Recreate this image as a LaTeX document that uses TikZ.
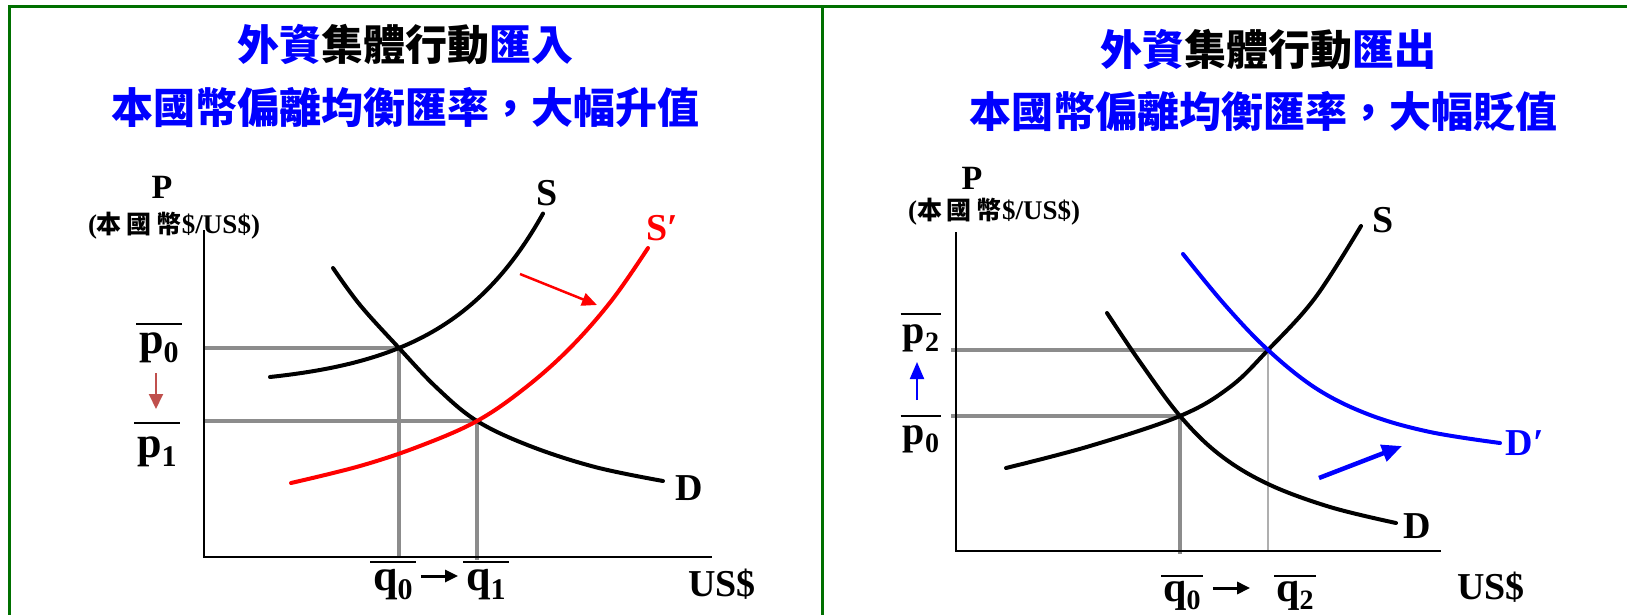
\documentclass[tikz,border=0pt]{standalone}
\usepackage{fontspec}
\setmainfont{Liberation Serif}
\newfontfamily\cjk{Noto Sans CJK TC}
\usetikzlibrary{arrows.meta}
\definecolor{framegreen}{RGB}{0,112,0}
\definecolor{tblue}{RGB}{0,0,255}
\definecolor{guidegray}{RGB}{140,140,140}
\definecolor{lightguide}{RGB}{175,175,175}
\definecolor{brownred}{RGB}{192,80,77}
\definecolor{sred}{RGB}{255,0,0}
\newcommand\bigsub[1]{\raisebox{-9pt}{\fontsize{30}{30}\selectfont #1}}
\newcommand\midsub[1]{\raisebox{-8pt}{\fontsize{28}{28}\selectfont #1}}
\newcommand\unittext{({\cjk\fontsize{25}{25}\selectfont 本\hspace{5pt}國\hspace{5pt}幣}\$/US\$)}
\tikzset{
  framel/.style={draw=framegreen, line width=3pt},
  title/.style={font=\cjk\bfseries\fontsize{42}{42}\selectfont, text=tblue, inner sep=0pt},
  axis/.style={draw=black, line width=2pt},
  curve/.style={line width=4pt, line cap=round},
  guide/.style={draw=guidegray, line width=3.5pt},
  thinguide/.style={draw=lightguide, line width=2pt},
  lbl/.style={font=\bfseries\fontsize{38}{38}\selectfont, inner sep=0pt},
  plbl/.style={font=\bfseries\fontsize{34}{34}\selectfont, inner sep=0pt},
  unitlbl/.style={font=\bfseries\fontsize{27}{27}\selectfont, inner sep=0pt},
  qlbl/.style={font=\bfseries\fontsize{44}{44}\selectfont, inner sep=0pt, anchor=base},
  rqlbl/.style={font=\bfseries\fontsize{42}{42}\selectfont, inner sep=0pt, anchor=base},
  rplbl/.style={font=\bfseries\fontsize{40}{40}\selectfont, inner sep=0pt, anchor=base},
  olline/.style={draw=black, line width=2pt},
}
\begin{document}
\begin{tikzpicture}[x=1pt,y=-1pt]
\useasboundingbox (0,0) rectangle (1627,615);
\fill[white] (0,0) rectangle (1627,615);
% frame
\draw[framel] (9,615) -- (9,7) -- (1627,7);
\draw[framel] (822,7) -- (822,615);
% titles
\node[title] (t1a) at (405,45) {外資\textcolor{black}{集體行動}匯入};
\node[title] (t1b) at (405,107) {本國幣偏離均衡匯率，大幅升值};
\node[title] (t2a) at (1268,50) {外資\textcolor{black}{集體行動}匯出};
\node[title] (t2b) at (1263,112) {本國幣偏離均衡匯率，大幅貶值};

% ================= LEFT GRAPH =================
\coordinate (Ly) at (204,230);
\coordinate (Lo) at (204,557);
\coordinate (Lx) at (712,557);
\coordinate (LE0) at (399,348);
\coordinate (LE1) at (477,421);
\coordinate (Lp0) at (203,348);
\coordinate (Lp1) at (203,421);
\coordinate (Lq0) at (399,558);
\coordinate (Lq1) at (477,560);
\draw[guide] (Lp0) -- (LE0) -- (Lq0);
\draw[guide] (Lp1) -- (LE1) -- (Lq1);
\draw[axis] (Ly) -- (Lo) -- (Lx);
% curves
\draw[curve] plot[domain=270:543, samples=60, smooth] (\x, {377-10.45*(exp(0.0103*(\x-270))-1)});
\draw[curve] plot[smooth, tension=0.6] coordinates {(333,268) (360,305) (LE0) (437,388) (LE1) (530,446) (595,467) (663,481)};
\draw[curve, sred] plot[smooth, tension=0.6] coordinates {(291,483) (360,466) (420,446) (LE1) (525,388) (570,348) (612,300) (648,248)};
% labels
\node[plbl] (LP) at (162,187) {P};
\node[unitlbl] (Lunit) at (174,226) {\unittext};
\node[lbl] (LS) at (547,193) {S};
\node[lbl, text=sred] (LSp) at (662,228) {S′};
\node[lbl] (LD) at (689,488) {D};
\node[lbl] (LUS) at (722,584) {US\$};
\node[qlbl] (Lp0l) at (159,353) {p\bigsub{0}};
\node[qlbl] (Lp1l) at (157,457) {p\bigsub{1}};
\node[qlbl] (Lq0l) at (393,590) {q\bigsub{0}};
\node[qlbl] (Lq1l) at (486,590) {q\bigsub{1}};
\draw[olline] ([xshift=-3pt,yshift=8pt]Lp0l.north west) -- ([xshift=3pt,yshift=8pt]Lp0l.north east);
\draw[olline] ([xshift=-3pt,yshift=13pt]Lp1l.north west) -- ([xshift=3pt,yshift=13pt]Lp1l.north east);
\draw[olline] ([xshift=-3pt,yshift=7pt]Lq0l.north west) -- ([xshift=3pt,yshift=7pt]Lq0l.north east);
\draw[olline] ([xshift=-3pt,yshift=7pt]Lq1l.north west) -- ([xshift=3pt,yshift=7pt]Lq1l.north east);
% arrows
\coordinate (La1s) at (520,274);
\coordinate (La1e) at (597,305);
\draw[sred, line width=2.5pt, -{Triangle[length=15pt,width=13pt]}] (La1s) -- (La1e);
\coordinate (La2s) at (156,373);
\coordinate (La2e) at (156,409);
\draw[brownred, line width=2pt, -{Triangle[length=15pt,width=14pt]}] (La2s) -- (La2e);
\draw[black, line width=3pt, -{Triangle[length=13pt,width=12pt]}] ([xshift=8pt]Lq0l.east |- 0,576) -- ([xshift=-8pt]Lq1l.west |- 0,576);

% ================= RIGHT GRAPH =================
\coordinate (Ry) at (956,232);
\coordinate (Ro) at (956,551);
\coordinate (Rx) at (1441,551);
\coordinate (RE0) at (1180,416);
\coordinate (RE2) at (1268,350);
\coordinate (Rp2) at (951,350);
\coordinate (Rp0) at (951,416);
\coordinate (Rq0) at (1180,554);
\coordinate (Rq2) at (1268,551);
\draw[guide] (Rp2) -- (RE2);
\draw[thinguide] (RE2) -- (Rq2);
\draw[guide] (Rp0) -- (RE0) -- (Rq0);
\draw[axis] (Ry) -- (Ro) -- (Rx);
\draw[curve] plot[smooth, tension=0.6] coordinates {(1006,468) (1090,446) (RE0) (1230,387) (RE2) (1315,298) (1361,226)};
\draw[curve] plot[smooth, tension=0.6] coordinates {(1107,313) (1140,362) (RE0) (1220,455) (1268,484) (1330,507) (1396,523)};
\draw[curve, tblue] plot[smooth, tension=0.6] coordinates {(1183,254) (1225,305) (RE2) (1317,389) (1370,415) (1430,432) (1500,443)};
% labels
\node[plbl] (RP) at (972,178) {P};
\node[unitlbl] (Runit) at (994,212) {\unittext};
\node[lbl] (RS) at (1383,220) {S};
\node[lbl] (RD) at (1417,526) {D};
\node[lbl, text=tblue] (RDp) at (1525,443) {D′};
\node[lbl] (RUS) at (1491,587) {US\$};
\node[rplbl] (Rp2l) at (921,343) {p\midsub{2}};
\node[rplbl] (Rp0l) at (921,444) {p\midsub{0}};
\node[rqlbl] (Rq0l) at (1182,601) {q\midsub{0}};
\node[rqlbl] (Rq2l) at (1295,601) {q\midsub{2}};
\draw[olline] ([xshift=-2pt,yshift=10pt]Rp2l.north west) -- ([xshift=2pt,yshift=10pt]Rp2l.north east);
\draw[olline] ([xshift=-2pt,yshift=9pt]Rp0l.north west) -- ([xshift=2pt,yshift=9pt]Rp0l.north east);
\draw[olline] ([xshift=-2pt,yshift=5pt]Rq0l.north west) -- ([xshift=2pt,yshift=5pt]Rq0l.north east);
\draw[olline] ([xshift=-2pt,yshift=5pt]Rq2l.north west) -- ([xshift=2pt,yshift=5pt]Rq2l.north east);
% arrows
\coordinate (Ra1s) at (917,400);
\coordinate (Ra1e) at (917,362);
\draw[tblue, line width=2pt, -{Triangle[length=17pt,width=14pt]}] (Ra1s) -- (Ra1e);
\coordinate (Ra2s) at (1319,478);
\coordinate (Ra2e) at (1402,446);
\draw[tblue, line width=4.5pt, -{Triangle[length=20pt,width=17pt]}] (Ra2s) -- (Ra2e);
\draw[black, line width=3pt, -{Triangle[length=13pt,width=12pt]}] ([xshift=12pt]Rq0l.east |- 0,588) -- ([xshift=-26pt]Rq2l.west |- 0,588);
\end{tikzpicture}
\end{document}
